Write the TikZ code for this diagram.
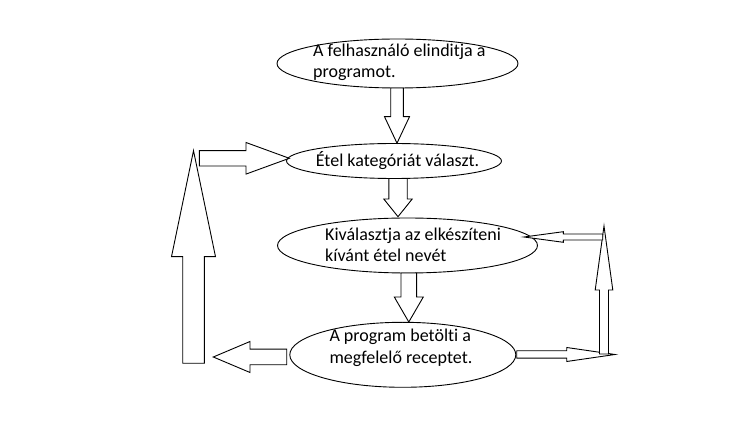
\documentclass[tikz,border=0pt]{standalone}
\usepackage{fontspec}
\setmainfont{Carlito}[Ligatures={NoCommon}]
\usetikzlibrary{shapes.geometric}
\tikzset{
  ell/.style={draw=black, line width=0.9pt, ellipse, inner sep=0pt},
  txt/.style={anchor=base west, inner sep=0pt, font=\fontsize{18}{21}\selectfont},
  barrow/.style={draw=black, fill=white, line width=0.9pt, line join=miter}
}
% #1 tail coordinate, #2 angle, #3 length, #4 shaft half width, #5 head half width, #6 head length
\newcommand\blockarr[6]{%
  \begin{scope}[shift={(#1)},rotate=#2]
    \draw[barrow] (0,-#4)--({#3-#6},-#4)--({#3-#6},-#5)--(#3,0)--({#3-#6},#5)--({#3-#6},#4)--(0,#4)--cycle;
  \end{scope}}
\begin{document}
\begin{tikzpicture}[x=1pt,y=-1pt]
\useasboundingbox (0,0) rectangle (748,438);
% ellipses
\node[ell, minimum width=241, minimum height=49] (e1) at (397.5,63.5) {};
\node[ell, minimum width=215, minimum height=35] (e2) at (394,161) {};
\node[ell, minimum width=260, minimum height=55] (e3) at (407.5,245.5) {};
\node[ell, minimum width=226, minimum height=65] (e4) at (402.8,354.8) {};
% texts
\node[txt] (t1a) at (313,56.5) {A felhasználó elinditja a};
\node[txt] (t1b) at (313,77.5) {programot.};
\node[txt] (t2) at (315.7,167) {Étel kategóriát választ.};
\node[txt] (t3a) at (325,240.5) {Kiválasztja az elkészíteni};
\node[txt] (t3b) at (325,262) {kívánt étel nevét};
\node[txt] (t4a) at (329.3,342) {A program betölti a};
\node[txt] (t4b) at (329.3,364) {megfelelő receptet.};
% arrow tails
\coordinate (a1) at (397,88);
\coordinate (a2) at (199.3,158.3);
\coordinate (a3) at (193.5,363.3);
\coordinate (a4) at (398,178.5);
\coordinate (a5) at (408.8,273);
\coordinate (a6) at (286.7,357);
\coordinate (a7) at (516.7,354.5);
\coordinate (a8) at (604,354);
\coordinate (a9) at (602.7,237);
% block arrows
\blockarr{a1}{-90}{55.2}{6.3}{12.5}{26.5}
\blockarr{a2}{0}{90}{7.7}{15.8}{43.3}
\blockarr{a3}{90}{212.6}{10.8}{22}{106}
\blockarr{a4}{-90}{38.2}{9.2}{14.2}{17.7}
\blockarr{a5}{-90}{49}{7.8}{14.5}{25}
\blockarr{a6}{180}{73.4}{7.8}{15.5}{36.7}
\blockarr{a7}{0}{98.3}{3.7}{7}{48.3}
\blockarr{a8}{90}{128}{4.5}{8.8}{64}
\blockarr{a9}{180}{78.7}{3}{5.3}{39.3}
\end{tikzpicture}
\end{document}
